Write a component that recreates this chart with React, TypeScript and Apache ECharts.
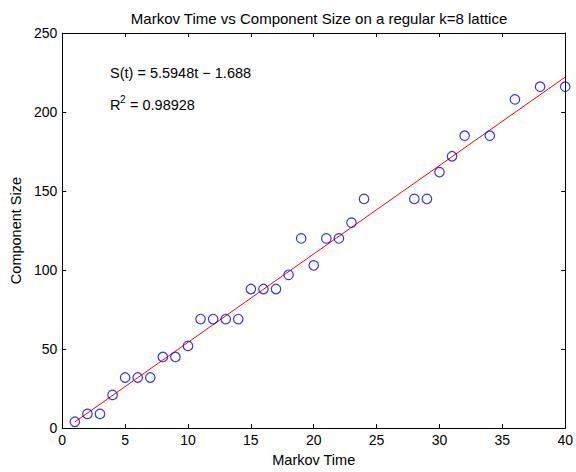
import React, { useEffect, useRef } from "react";
import * as echarts from "echarts";

const markovTime = [1, 2, 3, 4, 5, 6, 7, 8, 9, 10, 11, 12, 13, 14, 15, 16, 17, 18, 19, 20, 21, 22, 23, 24, 28, 29, 30, 31, 32, 34, 36, 38, 40];
const componentSize = [4, 9, 9, 21, 32, 32, 32, 45, 45, 52, 69, 69, 69, 69, 88, 88, 88, 97, 120, 103, 120, 120, 130, 145, 145, 145, 162, 172, 185, 185, 208, 216, 216];
const fitTime = [1, 40];
const fitSize = [3.907, 222.104];
const xTicks = [0, 5, 10, 15, 20, 25, 30, 35, 40];
const yTicks = [0, 50, 100, 150, 200, 250];

const FONT = "'Liberation Sans', Arial, Helvetica, sans-serif";

export default function App() {
  const ref = useRef<HTMLDivElement>(null);
  useEffect(() => {
    if (!ref.current) return;
    const chart = echarts.init(ref.current, undefined, { renderer: "svg" });
    const axisLine = { show: true, onZero: false, lineStyle: { color: "#000", width: 1 } };
    const axisTick = { show: true, inside: true, length: 4, lineStyle: { color: "#000", width: 1 } };
    const xBase = {
      type: "value" as const,
      min: xTicks[0],
      max: xTicks[xTicks.length - 1],
      interval: xTicks[1] - xTicks[0],
      axisLine,
      axisTick,
      splitLine: { show: false },
    };
    const yBase = {
      type: "value" as const,
      min: yTicks[0],
      max: yTicks[yTicks.length - 1],
      interval: yTicks[1] - yTicks[0],
      axisLine,
      axisTick,
      splitLine: { show: false },
    };
    chart.setOption({
      animation: false,
      backgroundColor: "#fff",
      textStyle: { fontFamily: FONT },
      title: {
        text: "Markov Time vs Component Size on a regular k=8 lattice",
        left: 314,
        top: 6,
        textAlign: "center",
        textStyle: { fontFamily: FONT, fontSize: 15, fontWeight: "normal", color: "#000" },
      },
      grid: { left: 60, top: 33, right: 10, bottom: 40, containLabel: false },
      xAxis: [
        {
          ...xBase,
          position: "bottom",
          name: "Markov Time",
          nameLocation: "middle",
          nameGap: 22,
          nameTextStyle: { fontFamily: FONT, fontSize: 14.5, color: "#000" },
          axisLabel: { show: true, margin: 5, fontFamily: FONT, fontSize: 14, color: "#000" },
        },
        { ...xBase, position: "top", axisLabel: { show: false } },
      ],
      yAxis: [
        {
          ...yBase,
          position: "left",
          name: "Component Size",
          nameLocation: "middle",
          nameGap: 35,
          nameTextStyle: { fontFamily: FONT, fontSize: 14.5, color: "#000" },
          axisLabel: { show: true, margin: 5, fontFamily: FONT, fontSize: 14, color: "#000" },
        },
        { ...yBase, position: "right", axisLabel: { show: false } },
      ],
      series: [
        {
          type: "line",
          data: fitTime.map((t, i) => [t, fitSize[i]]),
          symbol: "none",
          lineStyle: { color: "#ff0000", width: 1 },
          z: 2,
        },
        {
          type: "scatter",
          data: markovTime.map((t, i) => [t, componentSize[i]]),
          symbol: "circle",
          symbolSize: 9.5,
          itemStyle: { color: "rgba(0,0,0,0)", borderColor: "#0000ff", borderWidth: 1.2 },
          z: 3,
        },
      ],
      graphic: [
        {
          type: "text",
          left: 110,
          top: 65,
          style: { text: "S(t) = 5.5948t − 1.688", fontFamily: FONT, fontSize: 14.5, fill: "#000" },
        },
        {
          type: "text",
          left: 110,
          top: 97,
          style: { text: "R", fontFamily: FONT, fontSize: 14.5, fill: "#000" },
        },
        {
          type: "text",
          left: 120,
          top: 94,
          style: { text: "2", fontFamily: FONT, fontSize: 10, fill: "#000" },
        },
        {
          type: "text",
          left: 126,
          top: 97,
          style: { text: " = 0.98928", fontFamily: FONT, fontSize: 14.5, fill: "#000" },
        },
      ],
    });
    return () => chart.dispose();
  }, []);
  return (
    <div
      ref={ref}
      style={{ position: "fixed", left: 0, top: 0, width: 576, height: 472, background: "#fff" }}
    />
  );
}
